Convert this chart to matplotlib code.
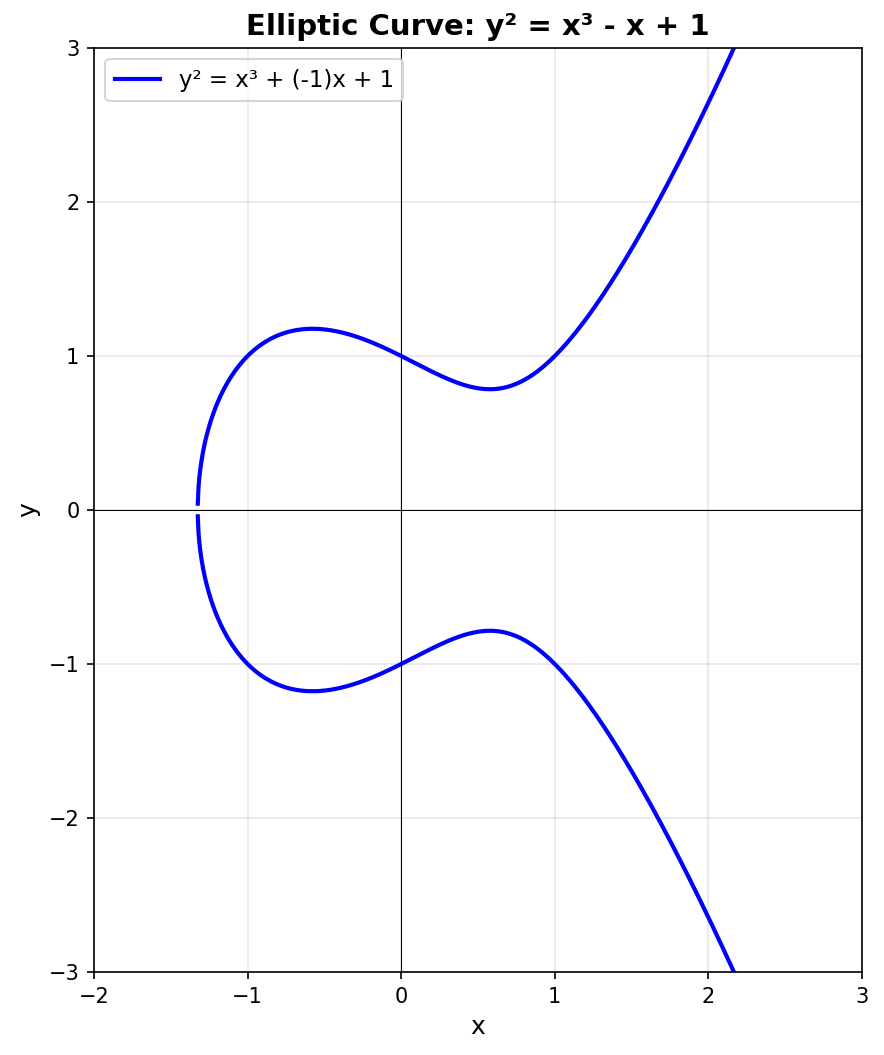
import numpy as np
import matplotlib.pyplot as plt

# ── Curve coefficients: y² = x³ + a·x + b ───────────────────────────────────
a_coef = -1
b_coef = 1
x_range = (-2, 3)
n_samples = 1000
x_ticks = [-2, -1, 0, 1, 2, 3]
y_ticks = [-3, -2, -1, 0, 1, 2, 3]

x = np.linspace(x_range[0], x_range[1], n_samples)
rhs = x**3 + a_coef * x + b_coef
valid = rhs >= 0
xv = x[valid]
yv = np.sqrt(rhs[valid])

fig = plt.figure(figsize=(884 / 150, 1055 / 150), dpi=150)
ax = fig.add_axes([94 / 884, 1 - 972 / 1055, 768 / 884, 924 / 1055])

ax.plot(xv, yv, color="blue", linewidth=2, label=f"y² = x³ + ({a_coef})x + {b_coef}")
ax.plot(xv, -yv, color="blue", linewidth=2)

ax.axhline(0, color="black", linewidth=0.5)
ax.axvline(0, color="black", linewidth=0.5)
ax.grid(True, alpha=0.3)

ax.set_xlim(-2, 3)
ax.set_ylim(-3, 3)
ax.set_xticks(x_ticks)
ax.set_yticks(y_ticks)
ax.set_xlabel("x", fontsize=12)
ax.set_ylabel("y", fontsize=12)
ax.set_title("Elliptic Curve: y² = x³ - x + 1", fontsize=14, fontweight="bold")
ax.legend(loc="upper left", fontsize=11)

fig.savefig("out.png", dpi=150)
